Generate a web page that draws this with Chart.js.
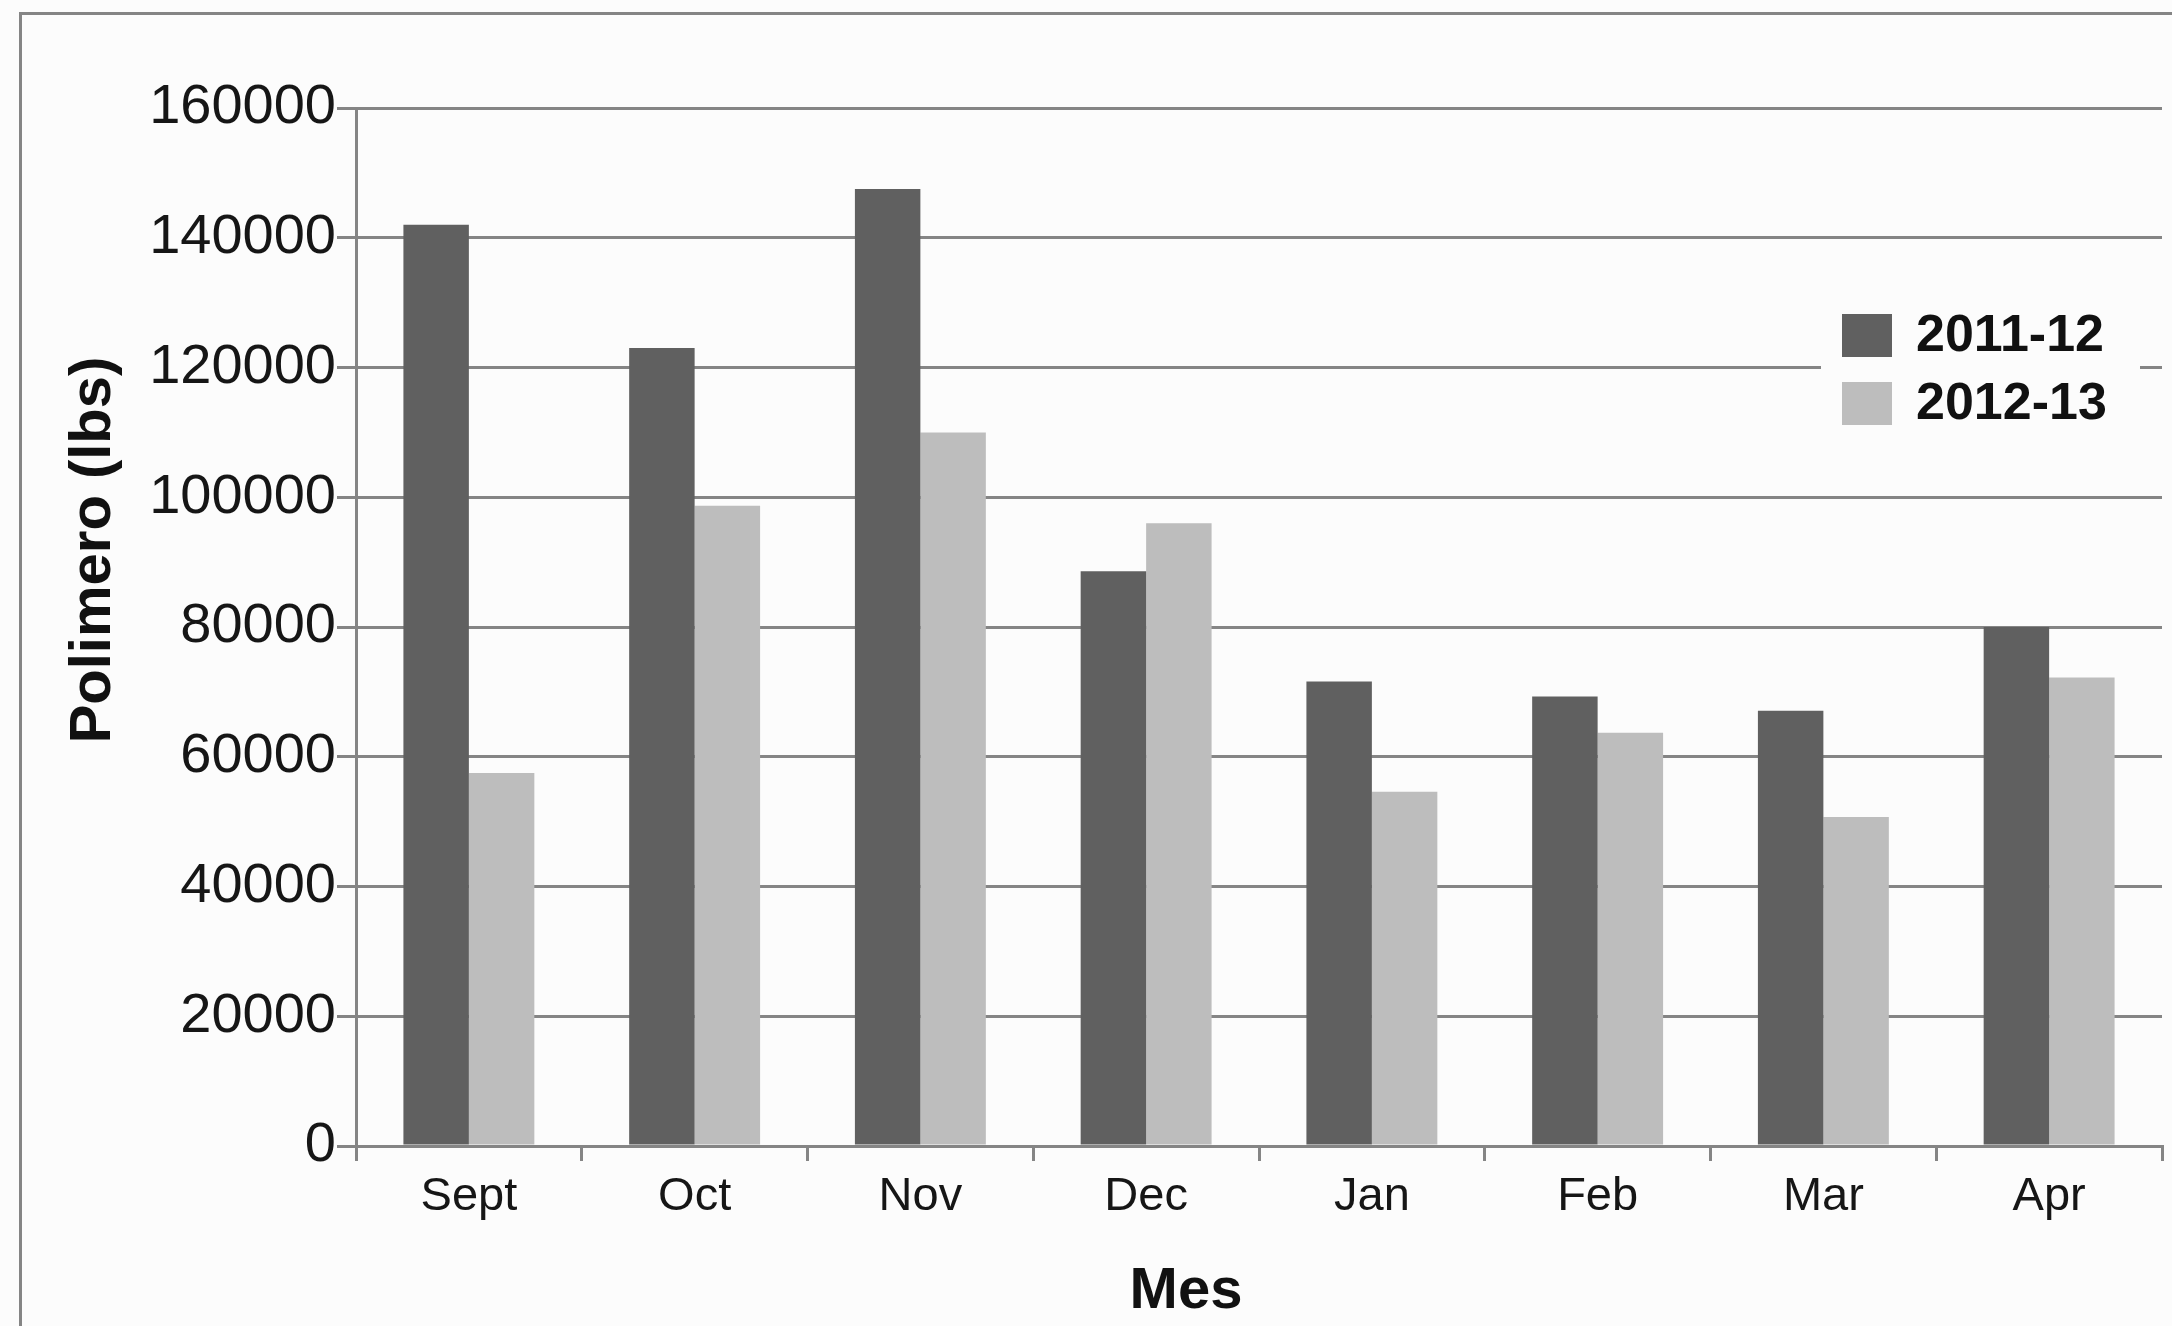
<!DOCTYPE html>
<html>
<head>
<meta charset="utf-8">
<title>Polimero por mes</title>
<script src="https://cdn.jsdelivr.net/npm/chart.js@4.4.1/dist/chart.umd.min.js"></script>
<style>
  html, body { margin: 0; padding: 0; background: #fcfcfc; overflow: hidden; }
  canvas { display: block; }
</style>
</head>
<body>
<canvas id="chart" width="2172" height="1326"></canvas>
<script>
// Categories and series
const months = ['Sept', 'Oct', 'Nov', 'Dec', 'Jan', 'Feb', 'Mar', 'Apr'];
const season2011 = [142000, 123000, 147500, 88600, 71600, 69300, 67100, 80000];
const season2012 = [57500, 98700, 110000, 96000, 54600, 63700, 50700, 72200];
const seriesNames = ['2011-12', '2012-13'];
const yTickValues = [0, 20000, 40000, 60000, 80000, 100000, 120000, 140000, 160000];
const xAxisTitle = 'Mes';
const yAxisTitle = 'Polimero (lbs)';

const DARK = '#606060';
const LIGHT = '#bdbdbd';
const LINE = '#858585';
const BG = '#fcfcfc';
const TEXT = '#161616';
const FONT = '"Liberation Sans", Arial, Helvetica, sans-serif';

// Page background and the frame around the figure
const framePlugin = {
  id: 'frame',
  beforeDraw(chart) {
    const ctx = chart.ctx;
    ctx.save();
    ctx.fillStyle = BG;
    ctx.fillRect(0, 0, chart.width, chart.height);
    ctx.strokeStyle = LINE;
    ctx.lineWidth = 3;
    ctx.strokeRect(20.5, 13.5, chart.width + 20, chart.height + 20);
    ctx.restore();
  }
};

// Axis titles
const titlesPlugin = {
  id: 'axisTitles',
  afterDraw(chart) {
    const ctx = chart.ctx;
    ctx.save();
    ctx.fillStyle = '#111111';
    ctx.font = 'bold 58px ' + FONT;
    ctx.textAlign = 'center';
    ctx.textBaseline = 'middle';
    ctx.fillText(xAxisTitle, 1186, 1292);
    ctx.translate(94, 550);
    ctx.rotate(-Math.PI / 2);
    ctx.fillText(yAxisTitle, 0, 0);
    ctx.restore();
  }
};

// Legend box drawn over the grid at the upper right
const legendPlugin = {
  id: 'boxLegend',
  afterDatasetsDraw(chart) {
    const ctx = chart.ctx;
    ctx.save();
    ctx.fillStyle = BG;
    ctx.fillRect(1821, 296, 319, 144);
    chart.data.datasets.forEach((ds, i) => {
      const y = 314 + i * 68;
      ctx.fillStyle = ds.backgroundColor;
      ctx.fillRect(1842, y, 50, 43);
      ctx.fillStyle = '#111111';
      ctx.font = 'bold 52px ' + FONT;
      ctx.textAlign = 'left';
      ctx.textBaseline = 'middle';
      ctx.fillText(ds.label, 1916, y + 23);
    });
    ctx.restore();
  }
};

new Chart(document.getElementById('chart'), {
  type: 'bar',
  data: {
    labels: months,
    datasets: [
      { label: seriesNames[0], data: season2011, backgroundColor: DARK },
      { label: seriesNames[1], data: season2012, backgroundColor: LIGHT }
    ]
  },
  options: {
    responsive: false,
    devicePixelRatio: 1,
    animation: false,
    layout: { padding: { top: 108, right: 10, bottom: 0, left: 0 } },
    datasets: {
      bar: { categoryPercentage: 0.58, barPercentage: 1.0, borderWidth: 0 }
    },
    plugins: {
      legend: { display: false },
      tooltip: { enabled: false }
    },
    scales: {
      x: {
        afterFit(scale) { scale.height = 180; },
        grid: {
          offset: true,
          drawOnChartArea: false,
          drawTicks: true,
          tickLength: 15,
          color: LINE,
          lineWidth: 3
        },
        border: { display: true, color: LINE, width: 3 },
        ticks: {
          color: TEXT,
          font: { family: FONT, size: 47 },
          padding: 8,
          maxRotation: 0
        }
      },
      y: {
        min: 0,
        max: 160000,
        afterFit(scale) { scale.width = 356; },
        afterBuildTicks(scale) {
          scale.ticks = yTickValues.map(v => ({ value: v }));
        },
        grid: {
          drawTicks: true,
          tickLength: 19,
          color: LINE,
          lineWidth: 3
        },
        border: { display: true, color: LINE, width: 3 },
        ticks: {
          color: TEXT,
          font: { family: FONT, size: 56 },
          padding: 1,
          callback: v => String(v)
        }
      }
    }
  },
  plugins: [framePlugin, titlesPlugin, legendPlugin]
});
</script>
</body>
</html>
